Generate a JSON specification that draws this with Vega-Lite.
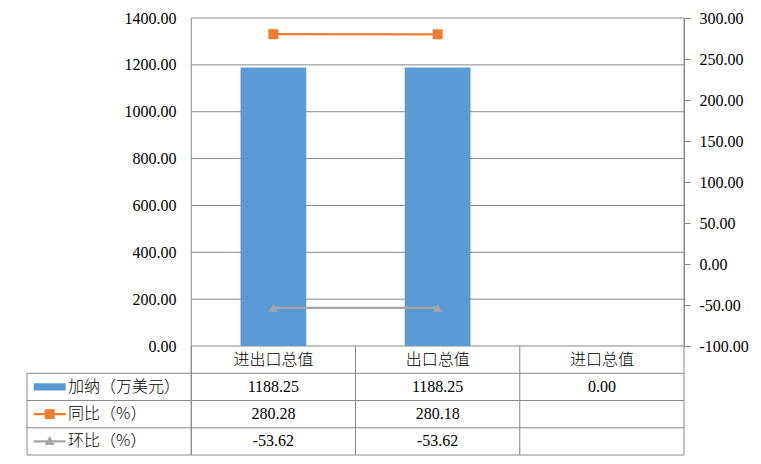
{
  "$schema": "https://vega.github.io/schema/vega-lite/v6.json",
  "width": 657,
  "height": 437,
  "autosize": {"type": "none"},
  "padding": {"left": 27, "top": 18, "right": 77, "bottom": 9},
  "background": "white",
  "config": {
    "view": {"stroke": null},
    "axis": {"labelFont": "Times New Roman, Liberation Serif, DejaVu Serif, serif", "labelFontSize": 16, "labelColor": "#000"},
    "locale": {"number": {"decimal": ".", "thousands": ",", "grouping": [3], "currency": ["$", ""], "minus": "-"}}
  },
  "datasets": {
    "vals": [
      {"cat": "进出口总值", "series": "加纳（万美元）", "v": 1188.25},
      {"cat": "出口总值", "series": "加纳（万美元）", "v": 1188.25},
      {"cat": "进口总值", "series": "加纳（万美元）", "v": 0},
      {"cat": "进出口总值", "series": "同比（%）", "v": 280.28},
      {"cat": "出口总值", "series": "同比（%）", "v": 280.18},
      {"cat": "进出口总值", "series": "环比（%）", "v": -53.62},
      {"cat": "出口总值", "series": "环比（%）", "v": -53.62}
    ],
    "grid": [{"g": 0}, {"g": 200}, {"g": 400}, {"g": 600}, {"g": 800}, {"g": 1000}, {"g": 1200}, {"g": 1400}],
    "rows": [{"row": "加纳（万美元）"}, {"row": "同比（%）"}, {"row": "环比（%）"}],
    "cats": [{"cat": "进出口总值"}, {"cat": "出口总值"}, {"cat": "进口总值"}],
    "edge": [{"edge": "bottom"}]
  },
  "layer": [
    {
      "layer": [
        {
          "data": {"name": "grid"},
          "mark": {"type": "rule", "color": "#898989", "strokeWidth": 1},
          "encoding": {
            "x": {"datum": "进出口总值", "type": "nominal", "bandPosition": 0, "axis": null,
                  "scale": {"type": "band", "domain": ["label", "进出口总值", "出口总值", "进口总值"], "paddingInner": 0, "paddingOuter": 0}},
            "x2": {"value": "width"},
            "y": {"field": "g", "type": "quantitative",
                  "scale": {"domain": [0, 1400], "range": [328, 0], "nice": false, "zero": false},
                  "axis": {"orient": "left", "offset": -164, "values": [0, 200, 400, 600, 800, 1000, 1200, 1400], "format": ".2f", "grid": false, "ticks": false, "tickSize": 0, "domain": false, "labelPadding": 15, "title": null}}
          }
        },
        {
          "data": {"name": "vals"},
          "transform": [{"filter": "datum.series === '加纳（万美元）'"}],
          "mark": {"type": "bar", "color": "#5B9BD5", "width": {"band": 0.4}},
          "encoding": {
            "x": {"field": "cat", "type": "nominal", "axis": null,
                  "scale": {"type": "band", "domain": ["label", "进出口总值", "出口总值", "进口总值"], "paddingInner": 0, "paddingOuter": 0}},
            "y": {"field": "v", "type": "quantitative", "title": null,
                  "scale": {"domain": [0, 1400], "range": [328, 0], "nice": false, "zero": false}}
          }
        }
      ]
    },
    {
      "data": {"name": "vals"},
      "transform": [{"filter": "datum.series !== '加纳（万美元）'"}],
      "encoding": {
        "x": {"field": "cat", "type": "nominal", "axis": null,
              "scale": {"type": "band", "domain": ["label", "进出口总值", "出口总值", "进口总值"], "paddingInner": 0, "paddingOuter": 0}},
        "y": {"field": "v", "type": "quantitative",
              "scale": {"domain": [-100, 300], "range": [328, 0], "nice": false, "zero": false},
              "axis": {"orient": "right", "values": [-100, -50, 0, 50, 100, 150, 200, 250, 300], "format": ".2f", "grid": false, "ticks": true, "tickSize": 6, "tickColor": "#898989", "domain": true, "domainColor": "#898989", "labelPadding": 9, "title": null}}
      },
      "layer": [
        {
          "mark": {"type": "line", "strokeWidth": 2.25},
          "encoding": {
            "color": {"field": "series", "type": "nominal", "legend": null,
                      "scale": {"domain": ["同比（%）", "环比（%）"], "range": ["#ED7D31", "#A5A5A5"]}}
          }
        },
        {
          "transform": [{"filter": "datum.series === '同比（%）'"}],
          "mark": {"type": "point", "shape": "square", "size": 100, "filled": true, "opacity": 1, "color": "#ED7D31"}
        },
        {
          "transform": [{"filter": "datum.series === '环比（%）'"}],
          "mark": {"type": "point", "shape": "triangle-up", "size": 80, "filled": true, "opacity": 1, "color": "#A5A5A5"}
        }
      ]
    },
    {
      "layer": [
        {
          "data": {"name": "rows"},
          "mark": {"type": "rule", "color": "#898989", "strokeWidth": 1},
          "encoding": {
            "x": {"value": 0},
            "x2": {"value": "width"},
            "y": {"field": "row", "type": "nominal", "bandPosition": 0, "axis": null,
                  "scale": {"type": "band", "domain": ["header", "加纳（万美元）", "同比（%）", "环比（%）"], "range": [328, 437], "paddingInner": 0, "paddingOuter": 0}}
          }
        },
        {
          "data": {"name": "edge"},
          "mark": {"type": "rule", "color": "#898989", "strokeWidth": 1},
          "encoding": {
            "x": {"value": 0},
            "x2": {"value": "width"},
            "y": {"value": "height"}
          }
        },
        {
          "data": {"name": "cats"},
          "mark": {"type": "rule", "color": "#898989", "strokeWidth": 1},
          "encoding": {
            "x": {"field": "cat", "type": "nominal", "bandPosition": 0, "axis": null,
                  "scale": {"type": "band", "domain": ["label", "进出口总值", "出口总值", "进口总值"], "paddingInner": 0, "paddingOuter": 0}},
            "y": {"datum": "header", "type": "nominal", "bandPosition": 0, "axis": null,
                  "scale": {"type": "band", "domain": ["header", "加纳（万美元）", "同比（%）", "环比（%）"], "range": [328, 437], "paddingInner": 0, "paddingOuter": 0}},
            "y2": {"value": "height"}
          }
        },
        {
          "data": {"name": "edge"},
          "mark": {"type": "rule", "color": "#898989", "strokeWidth": 1},
          "encoding": {
            "x": {"datum": "进出口总值", "type": "nominal", "bandPosition": 0, "axis": null,
                  "scale": {"type": "band", "domain": ["label", "进出口总值", "出口总值", "进口总值"], "paddingInner": 0, "paddingOuter": 0}},
            "y": {"value": 0},
            "y2": {"value": "height"}
          }
        },
        {
          "data": {"name": "edge"},
          "mark": {"type": "rule", "color": "#898989", "strokeWidth": 1},
          "encoding": {
            "x": {"value": "width"},
            "y": {"value": 0},
            "y2": {"value": "height"}
          }
        },
        {
          "data": {"name": "edge"},
          "mark": {"type": "rule", "color": "#898989", "strokeWidth": 1},
          "encoding": {
            "x": {"value": 0},
            "y": {"datum": "加纳（万美元）", "type": "nominal", "bandPosition": 0, "axis": null,
                  "scale": {"type": "band", "domain": ["header", "加纳（万美元）", "同比（%）", "环比（%）"], "range": [328, 437], "paddingInner": 0, "paddingOuter": 0}},
            "y2": {"value": "height"}
          }
        },
        {
          "data": {"name": "cats"},
          "mark": {"type": "text", "font": "Noto Sans CJK SC", "fontSize": 16, "fontWeight": 300, "color": "#000", "baseline": "middle", "align": "center"},
          "encoding": {
            "x": {"field": "cat", "type": "nominal", "axis": null,
                  "scale": {"type": "band", "domain": ["label", "进出口总值", "出口总值", "进口总值"], "paddingInner": 0, "paddingOuter": 0}},
            "y": {"datum": "header", "type": "nominal", "axis": null,
                  "scale": {"type": "band", "domain": ["header", "加纳（万美元）", "同比（%）", "环比（%）"], "range": [328, 437], "paddingInner": 0, "paddingOuter": 0}},
            "text": {"field": "cat", "type": "nominal"}
          }
        },
        {
          "data": {"name": "vals"},
          "mark": {"type": "text", "font": "Times New Roman, Liberation Serif, DejaVu Serif, serif", "fontSize": 16, "color": "#000", "baseline": "middle", "align": "center"},
          "encoding": {
            "x": {"field": "cat", "type": "nominal", "axis": null,
                  "scale": {"type": "band", "domain": ["label", "进出口总值", "出口总值", "进口总值"], "paddingInner": 0, "paddingOuter": 0}},
            "y": {"field": "series", "type": "nominal", "axis": null,
                  "scale": {"type": "band", "domain": ["header", "加纳（万美元）", "同比（%）", "环比（%）"], "range": [328, 437], "paddingInner": 0, "paddingOuter": 0}},
            "text": {"field": "v", "type": "quantitative", "format": ".2f"}
          }
        },
        {
          "data": {"name": "rows"},
          "mark": {"type": "text", "font": "Noto Sans CJK SC", "fontSize": 16, "fontWeight": 300, "color": "#000", "baseline": "middle", "align": "left"},
          "encoding": {
            "x": {"datum": "label", "type": "nominal", "bandPosition": 0.25, "axis": null,
                  "scale": {"type": "band", "domain": ["label", "进出口总值", "出口总值", "进口总值"], "paddingInner": 0, "paddingOuter": 0}},
            "y": {"field": "row", "type": "nominal", "axis": null,
                  "scale": {"type": "band", "domain": ["header", "加纳（万美元）", "同比（%）", "环比（%）"], "range": [328, 437], "paddingInner": 0, "paddingOuter": 0}},
            "text": {"field": "row", "type": "nominal"}
          }
        },
        {
          "data": {"name": "rows"},
          "transform": [{"filter": "datum.row === '加纳（万美元）'"}],
          "mark": {"type": "point", "shape": "M-1,-0.234H1V0.234H-1Z", "size": 1024, "filled": true, "opacity": 1, "color": "#5B9BD5"},
          "encoding": {
            "x": {"datum": "label", "type": "nominal", "bandPosition": 0.138, "axis": null,
                  "scale": {"type": "band", "domain": ["label", "进出口总值", "出口总值", "进口总值"], "paddingInner": 0, "paddingOuter": 0}},
            "y": {"field": "row", "type": "nominal", "axis": null,
                  "scale": {"type": "band", "domain": ["header", "加纳（万美元）", "同比（%）", "环比（%）"], "range": [328, 437], "paddingInner": 0, "paddingOuter": 0}}
          }
        },
        {
          "data": {"name": "rows"},
          "transform": [{"filter": "datum.row === '同比（%）'"}],
          "mark": {"type": "point", "shape": "M-1,-0.07H1V0.07H-1Z M-0.31,-0.31H0.31V0.31H-0.31Z", "size": 1024, "filled": true, "opacity": 1, "color": "#ED7D31"},
          "encoding": {
            "x": {"datum": "label", "type": "nominal", "bandPosition": 0.138, "axis": null,
                  "scale": {"type": "band", "domain": ["label", "进出口总值", "出口总值", "进口总值"], "paddingInner": 0, "paddingOuter": 0}},
            "y": {"field": "row", "type": "nominal", "axis": null,
                  "scale": {"type": "band", "domain": ["header", "加纳（万美元）", "同比（%）", "环比（%）"], "range": [328, 437], "paddingInner": 0, "paddingOuter": 0}}
          }
        },
        {
          "data": {"name": "rows"},
          "transform": [{"filter": "datum.row === '环比（%）'"}],
          "mark": {"type": "point", "shape": "M-1,-0.07H1V0.07H-1Z M0,-0.34L0.31,0.22L-0.31,0.22Z", "size": 1024, "filled": true, "opacity": 1, "color": "#A5A5A5"},
          "encoding": {
            "x": {"datum": "label", "type": "nominal", "bandPosition": 0.138, "axis": null,
                  "scale": {"type": "band", "domain": ["label", "进出口总值", "出口总值", "进口总值"], "paddingInner": 0, "paddingOuter": 0}},
            "y": {"field": "row", "type": "nominal", "axis": null,
                  "scale": {"type": "band", "domain": ["header", "加纳（万美元）", "同比（%）", "环比（%）"], "range": [328, 437], "paddingInner": 0, "paddingOuter": 0}}
          }
        }
      ]
    }
  ],
  "resolve": {"scale": {"y": "independent"}, "axis": {"y": "independent"}}
}
